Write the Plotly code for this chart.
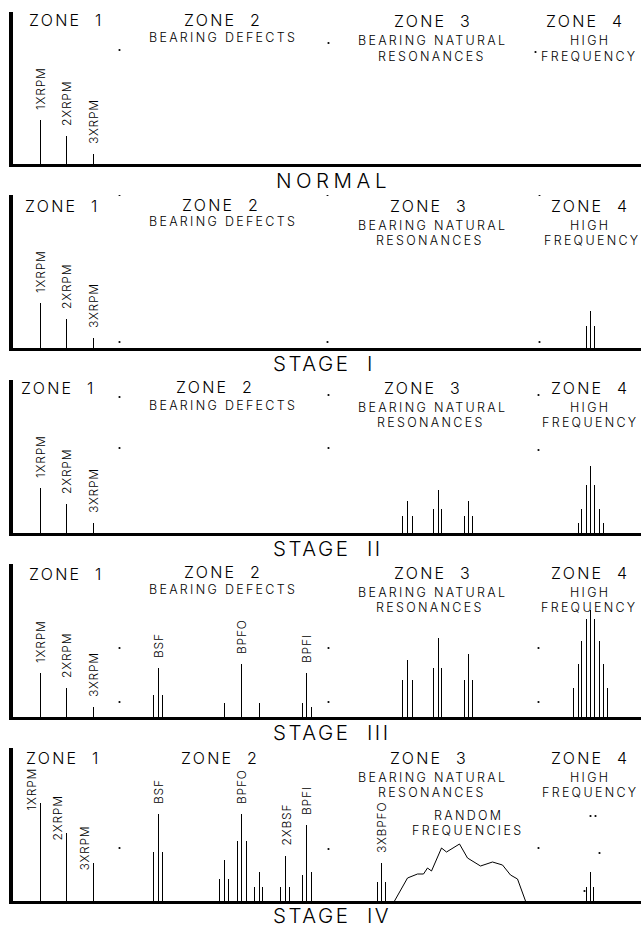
import plotly.graph_objects as go

W, H = 641, 927
X0 = 13  # left edge of the frequency axis (px)

PANEL_TOP = [12, 195, 380, 564, 748]
PANEL_BOT = [164, 348, 533, 717, 901]
STAGE_NAMES = ["NORMAL", "STAGE  I", "STAGE  II", "STAGE  III", "STAGE  IV"]

# ---------------- data (frequency position, amplitude) ----------------
rpm_freq = [40, 66, 93]
rpm_labels = ["1XRPM", "2XRPM", "3XRPM"]
rpm_amp = [[44, 28, 10], [45, 29, 10], [45, 29, 10], [44, 29, 10], [98, 68, 38]]

bsf_freq = [153, 158, 162]
bsf_amp_3 = [22, 49, 22]
bpfo_freq_3 = [224, 241, 259]
bpfo_amp_3 = [14, 53, 14]
bpfi_freq = [302, 306, 311]
bpfi_amp_3 = [14, 44, 10]

bsf_amp_4 = [49, 87, 49]
bpfo_freq_4 = [219, 224, 228, 237, 241, 246, 254, 259, 262]
bpfo_amp_4 = [22, 41, 22, 60, 87, 60, 14, 29, 14]
bsf2_freq_4 = [280, 285, 289]
bsf2_amp_4 = [14, 45, 14]
bpfi_amp_4 = [26, 76, 29]
bpfo3_freq_4 = [377, 381, 385]
bpfo3_amp_4 = [19, 38, 19]

res_freq = [402, 407, 412, 433, 438, 441, 464, 468, 472]
res_amp_2 = [17, 32, 17, 24, 43, 24, 17, 32, 17]
res_amp_3 = [37, 57, 37, 49, 79, 49, 37, 63, 37]

rand_freq = [394, 407, 417, 423, 427, 431, 441, 446, 459, 467, 480, 492, 502, 510, 517, 525]
rand_amp = [0, 23, 27, 27, 33, 30, 53, 49, 57, 43, 35, 39, 36, 26, 22, 0]

hf_freq_1 = [586, 590, 594]
hf_amp_1 = [22, 37, 22]
hf_freq_2 = [578, 581, 586, 590, 594, 599, 603]
hf_amp_2 = [10, 24, 48, 67, 48, 24, 10]
hf_freq_3 = [573, 578, 581, 586, 590, 594, 599, 603, 607]
hf_amp_3 = [29, 53, 76, 98, 107, 98, 76, 53, 29]
hf_freq_4 = [586, 590, 593]
hf_amp_4 = [14, 29, 14]

dot_freq = [
    [119, 328, 535],
    [119, 327, 539, 119, 327, 539],
    [119, 328, 538, 119, 328, 538],
    [119, 328, 538, 119, 328, 538],
    [119, 328, 538, 584, 599, 590, 595],
]
dot_amp = [
    [114, 121, 112],
    [153, 153, 153, 6, 6, 6],
    [136, 138, 138, 85, 85, 83],
    [69, 69, 69, 15, 15, 15],
    [53, 52, 53, 10, 48, 85, 85],
]

spectra = [
    [(rpm_freq, rpm_amp[0])],
    [(rpm_freq, rpm_amp[1]), (hf_freq_1, hf_amp_1)],
    [(rpm_freq, rpm_amp[2]), (res_freq, res_amp_2), (hf_freq_2, hf_amp_2)],
    [(rpm_freq, rpm_amp[3]), (bsf_freq, bsf_amp_3), (bpfo_freq_3, bpfo_amp_3),
     (bpfi_freq, bpfi_amp_3), (res_freq, res_amp_3), (hf_freq_3, hf_amp_3)],
    [(rpm_freq, rpm_amp[4]), (bsf_freq, bsf_amp_4), (bpfo_freq_4, bpfo_amp_4),
     (bsf2_freq_4, bsf2_amp_4), (bpfi_freq, bpfi_amp_4), (bpfo3_freq_4, bpfo3_amp_4),
     (hf_freq_4, hf_amp_4)],
]

peak_labels = [
    list(zip(rpm_labels, rpm_freq, rpm_amp[0])),
    list(zip(rpm_labels, rpm_freq, rpm_amp[1])),
    list(zip(rpm_labels, rpm_freq, rpm_amp[2])),
    list(zip(rpm_labels, rpm_freq, rpm_amp[3])) + [
        ("BSF", bsf_freq[1], bsf_amp_3[1]), ("BPFO", bpfo_freq_3[1], bpfo_amp_3[1]),
        ("BPFI", bpfi_freq[1], bpfi_amp_3[1])],
    [("BSF", bsf_freq[1], bsf_amp_4[1]), ("BPFO", bpfo_freq_4[4], bpfo_amp_4[4]),
     ("2XBSF", bsf2_freq_4[1], bsf2_amp_4[1]), ("BPFI", bpfi_freq[1], bpfi_amp_4[1]),
     ("3XBPFO", bpfo3_freq_4[1], bpfo3_amp_4[1])],
]

BIG, SMALL = 16, 12.5
zone_text = [
    [("ZONE  1", 66, 20, BIG), ("ZONE  2", 223, 20, BIG), ("BEARING DEFECTS", 223, 37, SMALL),
     ("ZONE  3", 433, 21, BIG), ("BEARING NATURAL", 432, 41, SMALL), ("RESONANCES", 432, 56, SMALL),
     ("ZONE  4", 585, 21, BIG), ("HIGH", 590, 41, SMALL), ("FREQUENCY", 589, 56, SMALL)],
    [("ZONE  1", 62, 206, BIG), ("ZONE  2", 221, 205, BIG), ("BEARING DEFECTS", 223, 221, SMALL),
     ("ZONE  3", 429, 206, BIG), ("BEARING NATURAL", 432, 225, SMALL), ("RESONANCES", 430, 240, SMALL),
     ("ZONE  4", 590, 206, BIG), ("HIGH", 590, 225, SMALL), ("FREQUENCY", 592, 240, SMALL)],
    [("ZONE  1", 58, 388, BIG), ("ZONE  2", 215, 387, BIG), ("BEARING DEFECTS", 223, 405, SMALL),
     ("ZONE  3", 423, 388, BIG), ("BEARING NATURAL", 432, 407, SMALL), ("RESONANCES", 431, 422, SMALL),
     ("ZONE  4", 590, 388, BIG), ("HIGH", 590, 407, SMALL), ("FREQUENCY", 590, 422, SMALL)],
    [("ZONE  1", 66, 574, BIG), ("ZONE  2", 223, 572, BIG), ("BEARING DEFECTS", 223, 589, SMALL),
     ("ZONE  3", 433, 573, BIG), ("BEARING NATURAL", 432, 592, SMALL), ("RESONANCES", 430, 607, SMALL),
     ("ZONE  4", 590, 573, BIG), ("HIGH", 590, 592, SMALL), ("FREQUENCY", 589, 607, SMALL)],
    [("ZONE  1", 63, 758, BIG), ("ZONE  2", 220, 758, BIG),
     ("ZONE  3", 429, 758, BIG), ("BEARING NATURAL", 432, 777, SMALL), ("RESONANCES", 432, 792, SMALL),
     ("ZONE  4", 590, 758, BIG), ("HIGH", 590, 777, SMALL), ("FREQUENCY", 590, 792, SMALL),
     ("RANDOM", 468, 815, SMALL), ("FREQUENCIES", 467, 830, SMALL)],
]
STAGE_Y = [180, 363, 548, 732, 915]
STAGE_X = [275, 272, 272, 272, 272]
STAGE_LS = [4.5, 2.5, 2.5, 2.5, 2.5]

FONT = "Inter, DejaVu Sans, sans-serif"
WEIGHT = 300


def spaced(t, px):
    return "<span style='letter-spacing:%spx'>%s</span>" % (px, t)


fig = go.Figure()
annotations = []

for k in range(5):
    ax = "" if k == 0 else str(k + 1)
    top, bot = PANEL_TOP[k], PANEL_BOT[k]
    xs, ys = [], []
    for fr, am in spectra[k]:
        for f, a in zip(fr, am):
            xs += [f, f, None]
            ys += [0, a, None]
    fig.add_trace(go.Scatter(x=xs, y=ys, mode="lines", line=dict(color="black", width=1),
                             xaxis="x" + ax, yaxis="y" + ax, hoverinfo="skip", showlegend=False))
    if k == 4:
        fig.add_trace(go.Scatter(x=rand_freq, y=rand_amp, mode="lines",
                                 line=dict(color="black", width=1),
                                 xaxis="x" + ax, yaxis="y" + ax, hoverinfo="skip", showlegend=False))
    fig.add_trace(go.Scatter(x=dot_freq[k], y=dot_amp[k], mode="markers",
                             marker=dict(color="black", size=2.2),
                             xaxis="x" + ax, yaxis="y" + ax, hoverinfo="skip", showlegend=False))
    axstyle = dict(showgrid=False, zeroline=False, showticklabels=False, ticks="",
                   showline=True, linecolor="black", fixedrange=True)
    fig.update_layout(**{
        "xaxis" + ax: dict(domain=[X0 / W, 1], range=[X0 - 0.5, W - 0.5], anchor="y" + ax,
                           linewidth=2.5, **axstyle),
        "yaxis" + ax: dict(domain=[1 - bot / H, 1 - top / H], range=[0, bot - top], anchor="x" + ax,
                           linewidth=3.5, **axstyle),
    })
    for (t, f, a) in peak_labels[k]:
        if k == 4 and t.endswith("RPM"):
            continue
        annotations.append(dict(text=spaced(t, 0.8), x=f, y=a, xref="x" + ax, yref="y" + ax,
                                xanchor="center", yanchor="bottom", yshift=9, textangle=-90,
                                showarrow=False, borderpad=0,
                                font=dict(family=FONT, size=12, color="black", weight=WEIGHT)))
    if k == 4:
        for t, f, a in zip(rpm_labels, rpm_freq, rpm_amp[4]):
            annotations.append(dict(text=spaced(t, 0.8), x=f, y=a, xref="x" + ax, yref="y" + ax,
                                    xanchor="right", yanchor="bottom", xshift=-1, yshift=-9,
                                    textangle=-90, showarrow=False, borderpad=0,
                                    font=dict(family=FONT, size=12, color="black", weight=WEIGHT)))
    for (t, xp, yp, sz) in zone_text[k]:
        annotations.append(dict(text=spaced(t, 2.3), x=xp / W, y=1 - yp / H,
                                xref="paper", yref="paper",
                                xanchor="center", yanchor="middle", showarrow=False, borderpad=0,
                                font=dict(family=FONT, size=sz, color="black", weight=WEIGHT)))
    annotations.append(dict(text=spaced(STAGE_NAMES[k], STAGE_LS[k]), x=STAGE_X[k] / W,
                            y=1 - STAGE_Y[k] / H,
                            xref="paper", yref="paper", xanchor="left", yanchor="middle",
                            showarrow=False, borderpad=0,
                            font=dict(family=FONT, size=20.5, color="black", weight=WEIGHT)))

fig.update_layout(width=W, height=H, margin=dict(l=0, r=0, t=0, b=0),
                  paper_bgcolor="white", plot_bgcolor="white",
                  annotations=annotations, showlegend=False)

fig.write_html("out.html", config={"displayModeBar": False},
               post_script="document.body.style.margin='0';document.body.style.overflow='hidden';")
